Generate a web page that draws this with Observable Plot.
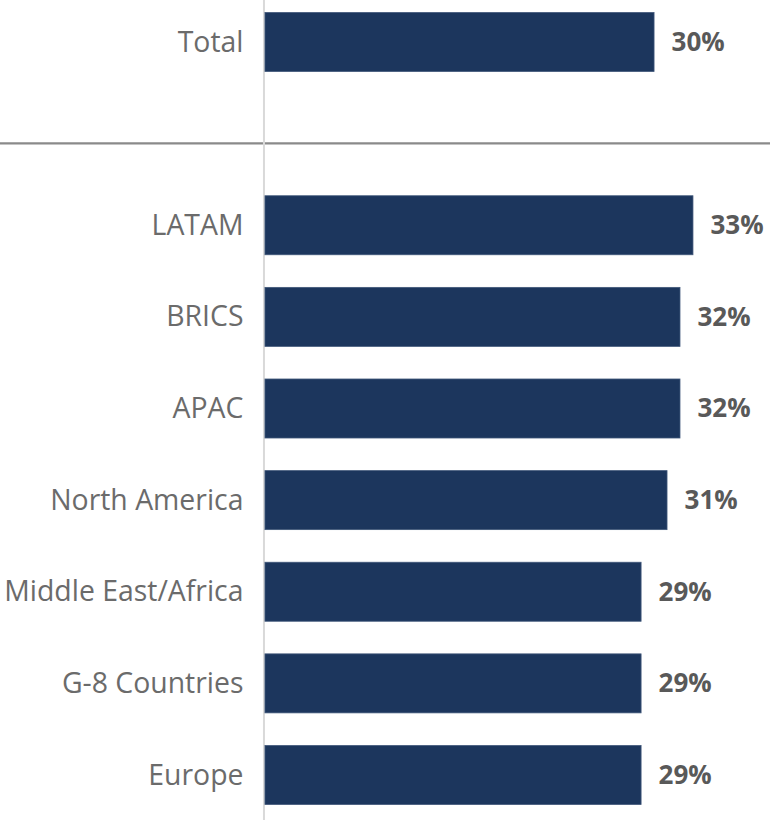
<!DOCTYPE html>
<html>
<head>
<meta charset="utf-8">
<script src="https://cdn.jsdelivr.net/npm/d3@7"></script>
<script src="https://cdn.jsdelivr.net/npm/@observablehq/plot@0.6"></script>
<style>
  html, body { margin: 0; padding: 0; background: #fff; }
  #chart svg { display: block; }
</style>
</head>
<body>
<div id="chart"></div>
<script>
const categories = ["Total", " ", "LATAM", "BRICS", "APAC", "North America", "Middle East/Africa", "G-8 Countries", "Europe"];
const barCategories = ["Total", "LATAM", "BRICS", "APAC", "North America", "Middle East/Africa", "G-8 Countries", "Europe"];
const values = [30, 33, 32, 32, 31, 29, 29, 29];
const labels = ["30%", "33%", "32%", "32%", "31%", "29%", "29%", "29%"];
const separatorCategory = [" "];

const data = barCategories.map((c, i) => ({ category: c, value: values[i], label: labels[i] }));

const chart = Plot.plot({
  width: 770,
  height: 822,
  marginLeft: 0,
  marginRight: 0,
  marginTop: 0,
  marginBottom: 5,
  style: { fontFamily: "'Open Sans', sans-serif", background: "#fff" },
  x: { domain: [-20.43, 38.94], axis: null },
  y: { domain: categories, axis: null, paddingInner: 0.356, paddingOuter: 0.1365, round: false },
  marks: [
    Plot.ruleY(separatorCategory, { y: d => d, stroke: "#8a8a8a", strokeWidth: 2.2, dy: 9.2 }),
    Plot.ruleX([0], { stroke: "#d9d9d9", strokeWidth: 2, dx: -1.5, insetBottom: -3 }),
    Plot.barX(data, { y: "category", x1: 0, x2: "value", fill: "#1c365d", stroke: "#41587a", strokeWidth: 0.8 }),
    Plot.text(data, { y: "category", x: 0, text: "category", textAnchor: "end", dx: -22, fill: "#6b6b6b", fontSize: 28.4 }),
    Plot.text(data, { y: "category", x: "value", text: "label", textAnchor: "start", dx: 17, fill: "#595959", fontSize: 26, fontWeight: "bold" })
  ]
});
document.getElementById("chart").appendChild(chart);
</script>
</body>
</html>
